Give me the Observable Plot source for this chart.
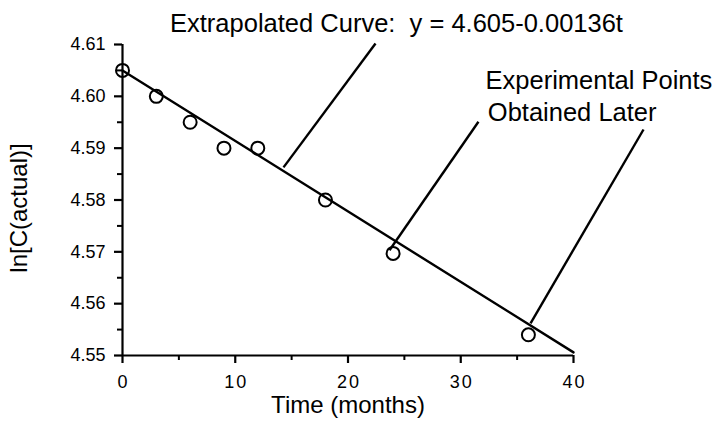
<!DOCTYPE html>
<html>
<head>
<meta charset="utf-8">
<script src="https://cdn.jsdelivr.net/npm/d3@7"></script>
<script src="https://cdn.jsdelivr.net/npm/@observablehq/plot@0.6"></script>
<style>
  html, body { margin: 0; padding: 0; background: #fff; }
  svg text { white-space: pre; }
</style>
</head>
<body>
<div id="chart"></div>
<script>
// Observed points
const months = [0, 3, 6, 9, 12, 18, 24, 36];
const lnC = [4.605, 4.600, 4.595, 4.590, 4.590, 4.580, 4.5697, 4.554];

// Extrapolated curve end points (y = 4.605 - 0.00136 t)
const fitT = [0, 40];
const fitY = [4.605, 4.5506];

// Ticks
const xTicks = [0, 10, 20, 30, 40];
const xMinor = [5, 15, 25, 35];
const yTicks = [4.55, 4.56, 4.57, 4.58, 4.59, 4.60, 4.61];
const yMinor = [4.555, 4.565, 4.575, 4.585, 4.595, 4.605];

// Annotation leaders (data coordinates)
const leadX1 = [14.28, 23.68, 36.19];
const leadY1 = [4.5863, 4.5703, 4.5562];
const leadX2 = [22.44, 31.57, 46.21];
const leadY2 = [4.6102, 4.5951, 4.5936];

// Annotation texts
const annoText = ["Extrapolated Curve:  y = 4.605-0.00136t", "Experimental Points", "Obtained Later"];
const annoX = [24.3, 32.2, 32.4];
const annoY = [4.6125, 4.6015, 4.5953];
const annoAnchor = ["middle", "start", "start"];

const points = months.map((t, i) => ({t, v: lnC[i]}));
const fit = fitT.map((t, i) => ({t, v: fitY[i]}));
const leaders = leadX1.map((x, i) => ({x1: x, y1: leadY1[i], x2: leadX2[i], y2: leadY2[i]}));
const annos = annoText.map((s, i) => ({s, x: annoX[i], y: annoY[i], a: annoAnchor[i]}));

const font = "'Liberation Sans', Arial, Helvetica, sans-serif";

const chart = Plot.plot({
  width: 715,
  height: 421,
  marginLeft: 122,
  marginRight: 142,
  marginTop: 44,
  marginBottom: 66,
  style: {fontFamily: font, background: "#fff", color: "#000"},
  x: {domain: [0, 40], axis: null},
  y: {domain: [4.55, 4.61], axis: null},
  marks: [
    // axis lines
    Plot.ruleX([0], {y1: 4.55, y2: 4.61, stroke: "#000", strokeWidth: 2.2}),
    Plot.ruleY([4.55], {x1: 0, x2: 40, stroke: "#000", strokeWidth: 2.2}),
    // y axis
    Plot.axisY({ticks: yTicks, tickSize: 8, tickPadding: 9, tickFormat: d3.format(".2f"),
      fontSize: 18, strokeWidth: 2.2, label: null, anchor: "left"}),
    Plot.axisY({ticks: yMinor, tickSize: 5, tickFormat: () => "", strokeWidth: 2, label: null, anchor: "left"}),
    // x axis
    Plot.axisX({ticks: xTicks, tickSize: 8, tickPadding: 12, tickFormat: d3.format("d"),
      fontSize: 18, strokeWidth: 2.2, label: null, anchor: "bottom"}),
    Plot.axisX({ticks: xMinor, tickSize: 5, tickFormat: () => "", strokeWidth: 2, label: null, anchor: "bottom"}),
    // axis titles
    Plot.text(["Time (months)"], {frameAnchor: "bottom", dy: 57, lineAnchor: "bottom",
      fontSize: 24, fill: "#000"}),
    Plot.text(["ln[C(actual)]"], {frameAnchor: "left", dx: -103, dy: 8, rotate: -90,
      textAnchor: "middle", lineAnchor: "middle", fontSize: 24, fill: "#000"}),
    // fitted line
    Plot.line(fit, {x: "t", y: "v", stroke: "#000", strokeWidth: 2.4}),
    // data points
    Plot.dot(points, {x: "t", y: "v", r: 6.5, stroke: "#000", strokeWidth: 2, fill: "none"}),
    // leaders
    Plot.link(leaders, {x1: "x1", y1: "y1", x2: "x2", y2: "y2", stroke: "#000", strokeWidth: 2.4}),
    // annotations
    Plot.text(annos.filter(d => d.a === "middle"), {x: "x", y: "y", text: "s", textAnchor: "middle",
      lineAnchor: "bottom", fontSize: 25.5, fill: "#000"}),
    Plot.text(annos.filter(d => d.a === "start"), {x: "x", y: "y", text: "s", textAnchor: "start",
      lineAnchor: "bottom", fontSize: 25.5, fill: "#000"})
  ]
});

d3.select(chart).selectAll('g[aria-label="x-axis tick label"] text').style("letter-spacing", "2px").attr("dx", 1);
document.getElementById("chart").appendChild(chart);
</script>
</body>
</html>
